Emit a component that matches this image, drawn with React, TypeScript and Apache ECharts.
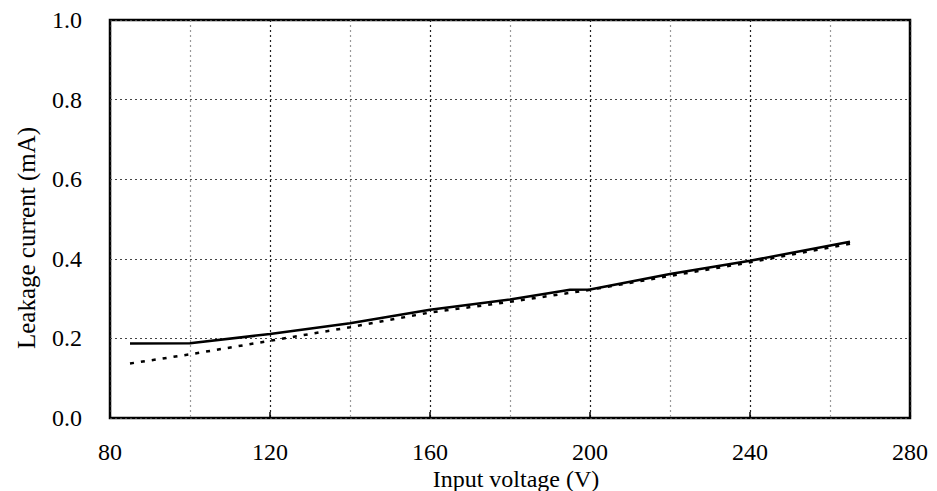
import React, { useEffect, useRef } from "react";
import * as echarts from "echarts";

const solidX = [85, 100, 120, 140, 160, 180, 195, 200, 220, 240, 265];
const solidY = [0.187, 0.188, 0.211, 0.238, 0.272, 0.298, 0.322, 0.323, 0.362, 0.395, 0.443];
const dottedX = [85, 100, 120, 140, 160, 180, 200, 220, 240, 265];
const dottedY = [0.137, 0.16, 0.194, 0.228, 0.265, 0.292, 0.322, 0.357, 0.391, 0.438];

const xTitle = "Input voltage (V)";
const yTitle = "Leakage current (mA)";
const FONT = "'Liberation Serif', 'Times New Roman', serif";

export default function App() {
  const ref = useRef<HTMLDivElement>(null);
  useEffect(() => {
    if (!ref.current) return;
    const chart = echarts.init(ref.current, undefined, { renderer: "svg" });
    chart.setOption({
      animation: false,
      backgroundColor: "#fff",
      grid: {
        left: 110,
        right: 27,
        top: 20,
        bottom: 73,
        show: true,
        borderColor: "#000",
        borderWidth: 2.5,
      },
      xAxis: {
        type: "value",
        min: 80,
        max: 280,
        interval: 40,
        axisLine: { show: false },
        axisTick: { show: true, inside: true, length: 6, lineStyle: { color: "#000", width: 1.5 } },
        axisLabel: { margin: 22, color: "#000", fontFamily: FONT, fontSize: 24, lineHeight: 24 },
        splitLine: { show: true, lineStyle: { color: "#222", type: [2, 3], width: 1.2 } },
        minorTick: { show: false, splitNumber: 2 },
        minorSplitLine: { show: true, lineStyle: { color: "#999", type: [2, 3], width: 1.2 } },
      },
      yAxis: {
        type: "value",
        min: 0,
        max: 1,
        interval: 0.2,
        axisLine: { show: false },
        axisTick: { show: false },
        axisLabel: {
          margin: 28,
          color: "#000",
          fontFamily: FONT,
          fontSize: 24,
          formatter: (v: number) => v.toFixed(1),
        },
        splitLine: { show: true, lineStyle: { color: "#444", type: [2, 3], width: 1.2 } },
      },
      graphic: [
        {
          type: "text",
          x: 516,
          y: 479,
          style: {
            text: xTitle,
            font: `24px ${FONT}`,
            lineHeight: 24,
            fill: "#000",
            align: "center",
            verticalAlign: "middle",
          },
        },
        {
          type: "text",
          x: 26,
          y: 238,
          rotation: Math.PI / 2,
          style: {
            text: yTitle,
            font: `25px ${FONT}`,
            fill: "#000",
            align: "center",
            verticalAlign: "middle",
          },
        },
      ],
      series: [
        {
          type: "line",
          data: dottedX.map((x, i) => [x, dottedY[i]]),
          showSymbol: false,
          lineStyle: { color: "#000", width: 2.5, type: [4, 7] },
          z: 3,
        },
        {
          type: "line",
          data: solidX.map((x, i) => [x, solidY[i]]),
          showSymbol: false,
          lineStyle: { color: "#000", width: 2.5 },
          z: 4,
        },
      ],
    });
    return () => chart.dispose();
  }, []);
  return <div ref={ref} style={{ width: 937, height: 491, marginLeft: -8, marginTop: -8 }} />;
}
